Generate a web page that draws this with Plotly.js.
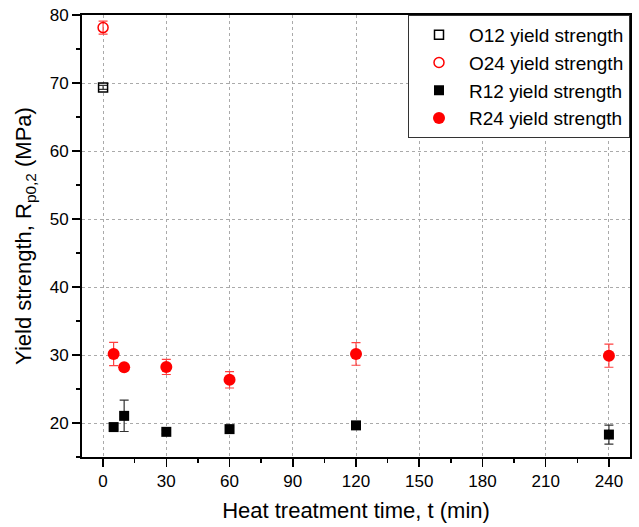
<!DOCTYPE html>
<html><head><meta charset="utf-8">
<script src="https://cdn.plot.ly/plotly-3.0.1.min.js"></script>
<style>html,body{margin:0;padding:0;background:#fff}</style>
</head><body>
<div id="chart" style="width:639px;height:527px"></div>
<script>
const o12Time = [0];
const o12Yield = [69.35];
const o12Err = [0.3];

const o24Time = [0];
const o24Yield = [78.15];
const o24Err = [0.95];

const r12Time = [5, 10, 30, 60, 120, 240];
const r12Yield = [19.4, 21.05, 18.7, 19.1, 19.65, 18.3];
const r12Err = [0.3, 2.3, 0.3, 0.3, 0.3, 1.4];

const r24Time = [5, 10, 30, 60, 120, 240];
const r24Yield = [30.15, 28.2, 28.25, 26.35, 30.15, 29.9];
const r24Err = [1.72, 0.3, 1.12, 1.2, 1.66, 1.7];

const xTicks = [0, 30, 60, 90, 120, 150, 180, 210, 240];
const yTicks = [20, 30, 40, 50, 60, 70, 80];

const font = "Liberation Sans, Arial, sans-serif";

function errY(arr, color) {
  return {type: 'data', array: arr, visible: true, color: color, thickness: 1.2, width: 4.5};
}

const traces = [
  {x: o12Time, y: o12Yield, name: 'O12 yield strength', mode: 'markers', type: 'scatter',
   marker: {symbol: 'square-open', size: 9, color: '#000', line: {width: 1.5, color: '#000'}},
   error_y: errY(o12Err, '#333')},
  {x: o24Time, y: o24Yield, name: 'O24 yield strength', mode: 'markers', type: 'scatter',
   marker: {symbol: 'circle-open', size: 10, color: '#ff0000', line: {width: 1.5, color: '#ff0000'}},
   error_y: errY(o24Err, '#ff4040')},
  {x: r12Time, y: r12Yield, name: 'R12 yield strength', mode: 'markers', type: 'scatter',
   marker: {symbol: 'square', size: 10, color: '#000'},
   error_y: errY(r12Err, '#333')},
  {x: r24Time, y: r24Yield, name: 'R24 yield strength', mode: 'markers', type: 'scatter',
   marker: {symbol: 'circle', size: 12, color: '#ff0000'},
   error_y: errY(r24Err, '#ff4040')}
];

const layout = {
  width: 639, height: 527,
  margin: {l: 81.5, r: 8.5, t: 14.5, b: 70},
  paper_bgcolor: '#fff', plot_bgcolor: '#fff',
  font: {family: font, color: '#000', size: 17},
  showlegend: true,
  legend: {x: 1, y: 1, xanchor: 'right', yanchor: 'top', bgcolor: '#fff',
           bordercolor: '#333', borderwidth: 1, font: {size: 19, family: font},
           tracegroupgap: 0, itemwidth: 50},
  xaxis: {
    range: [-10, 250], tickvals: xTicks, ticktext: xTicks.map(String),
    ticks: 'outside', ticklen: 8, tickwidth: 1.5, tickcolor: '#000',
    minor: {dtick: 15, tick0: 15, ticks: 'outside', ticklen: 4, tickwidth: 1.5, tickcolor: '#000', showgrid: false},
    showline: true, linewidth: 2, linecolor: '#000', mirror: true,
    showgrid: true, gridcolor: '#aaaaaa', griddash: '3px,3px', gridwidth: 1,
    zeroline: false, tickfont: {size: 17, family: font},
    title: {text: 'Heat treatment time, t (min)', font: {size: 22, family: font}, standoff: 12}
  },
  yaxis: {
    range: [15, 80], tickvals: yTicks, ticktext: yTicks.map(String),
    ticks: 'outside', ticklen: 8, tickwidth: 1.5, tickcolor: '#000',
    minor: {dtick: 5, tick0: 15, ticks: 'outside', ticklen: 4, tickwidth: 1.5, tickcolor: '#000', showgrid: false},
    showline: true, linewidth: 2, linecolor: '#000', mirror: true,
    showgrid: true, gridcolor: '#aaaaaa', griddash: '3px,3px', gridwidth: 1,
    zeroline: false, tickfont: {size: 17, family: font},
    title: {text: 'Yield strength, R<sub>p0,2</sub> (MPa)', font: {size: 22, family: font}, standoff: 12}
  }
};

Plotly.newPlot('chart', traces, layout, {displayModeBar: false, staticPlot: true});
</script>
</body></html>
